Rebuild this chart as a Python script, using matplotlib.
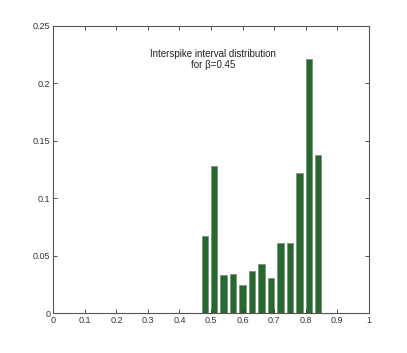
import matplotlib
matplotlib.use('Agg')
import matplotlib.pyplot as plt

# interspike interval bins and relative frequencies
centers = [0.48, 0.51, 0.54, 0.57, 0.60, 0.63, 0.66, 0.69, 0.72, 0.75, 0.78, 0.81, 0.84]
freqs = [0.067, 0.128, 0.033, 0.034, 0.0245, 0.037, 0.043, 0.031, 0.061, 0.061, 0.122, 0.221, 0.138]
xticks = [0, 0.1, 0.2, 0.3, 0.4, 0.5, 0.6, 0.7, 0.8, 0.9, 1]
xticklabels = ['0', '0.1', '0.2', '0.3', '0.4', '0.5', '0.6', '0.7', '0.8', '0.9', '1']
yticks = [0, 0.05, 0.1, 0.15, 0.2, 0.25]
yticklabels = ['0', '0.05', '0.1', '0.15', '0.2', '0.25']

plt.rcParams['font.family'] = ['Liberation Sans', 'DejaVu Sans']

fig = plt.figure(figsize=(4.07, 3.53), dpi=100)
ax = fig.add_axes([0.131, 0.1125, 0.775, 0.8145])

ax.bar(centers, freqs, width=0.02, color='#236b2a', edgecolor='#8a8a8a', linewidth=0.6)

ax.set_xlim(0, 1)
ax.set_ylim(0, 0.25)
ax.set_xticks(xticks)
ax.set_xticklabels(xticklabels)
ax.set_yticks(yticks)
ax.set_yticklabels(yticklabels)
ax.tick_params(direction='in', top=True, right=True, length=3, width=0.6,
               labelsize=6.5, colors='#333333', pad=2)
for s in ax.spines.values():
    s.set_linewidth(0.8)
    s.set_color('#555555')

ax.text(0.507, 0.2205, 'Interspike interval distribution\nfor \u03b2=0.45',
        ha='center', va='center', fontsize=7, color='#222222', linespacing=1.2)

fig.savefig('out.png', dpi=100)
